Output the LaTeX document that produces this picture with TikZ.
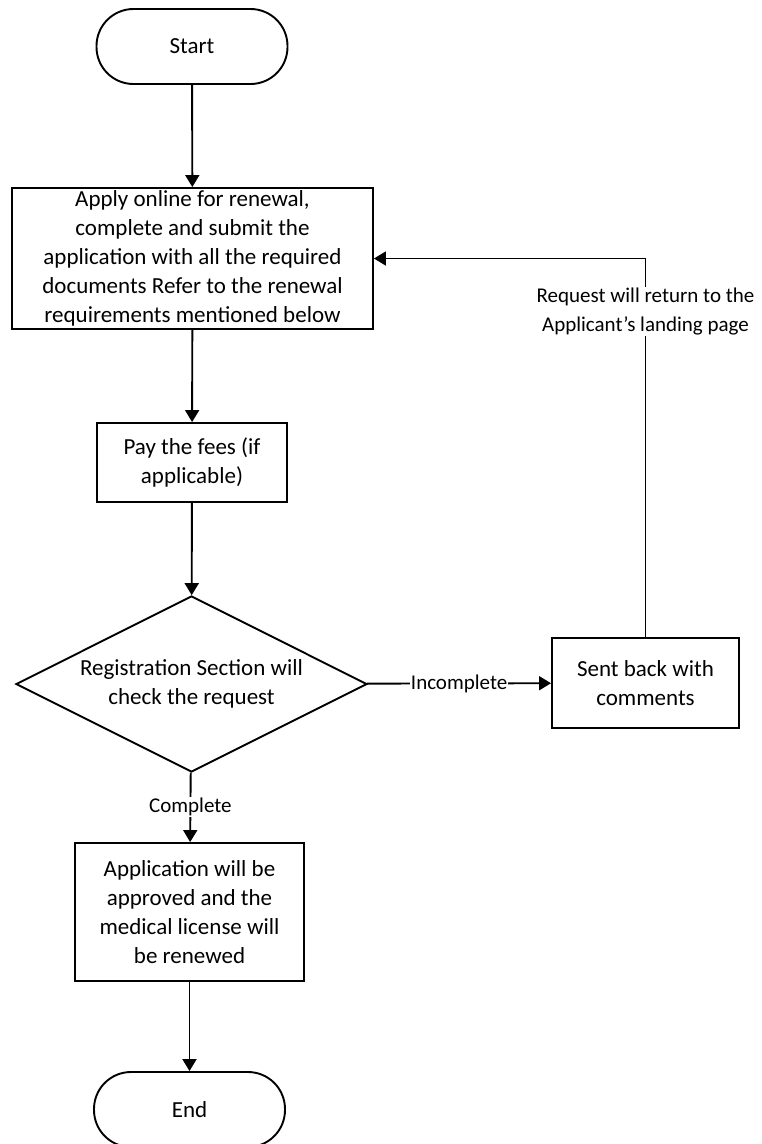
\documentclass[tikz,border=0pt]{standalone}
\usepackage{fontspec}
\setmainfont{Carlito}
\usetikzlibrary{arrows.meta, shapes.geometric, positioning}

\tikzset{
  term/.style={draw, rounded corners=37pt, minimum width=191pt, minimum height=75pt},
  proc/.style={draw, align=center, inner sep=2pt},
  decide/.style={draw, diamond, aspect=2, inner sep=0pt, align=center,
    minimum width=351pt, minimum height=176pt},
  lbl/.style={fill=white, inner sep=1pt, align=center, font=\fontsize{21}{29}\selectfont}
}

\begin{document}
\begin{tikzpicture}[x=1pt, y=-1pt, line width=1.9pt, ->,
    >={Triangle[length=12pt, width=14pt]}, font=\fontsize{23}{29}\selectfont]
  \useasboundingbox (0,0) rectangle (762,1144);
  \clip (0,0) rectangle (762,1144);

  \node[term] (start) at (192, 46.5) {Start};
  \node[proc, minimum width=361pt, minimum height=141pt] (apply) at (192.5, 258.5)
    {Apply online for renewal,\\complete and submit the\\application with all the required\\documents Refer to the renewal\\requirements mentioned below};
  \node[proc, minimum width=190pt, minimum height=79pt] (fees) at (192, 462.5)
    {Pay the fees (if\\applicable)};
  \node[decide] (check) at (191.5, 684) {Registration Section will\\check the request};
  \node[proc, minimum width=187pt, minimum height=90pt] (sent) at (645.5, 683)
    {Sent back with\\comments};
  \node[proc, minimum width=229pt, minimum height=138pt] (approve) at (189.5, 912)
    {Application will be\\approved and the\\medical license will\\be renewed};
  \node[term] (stop) at (189.5, 1109.5) {End};

  % main flow
  \path
    (start) edge (apply)
    (apply) edge (fees)
    (fees) edge (check)
    (check) edge node[lbl] {Incomplete} (sent)
    (check) edge node[lbl] {Complete} (approve)
    (approve) edge (stop);
  % loop back
  \draw (sent) |- node[lbl, pos=0.43] {Request will return to the\\Applicant's landing page} (apply);
\end{tikzpicture}
\end{document}
